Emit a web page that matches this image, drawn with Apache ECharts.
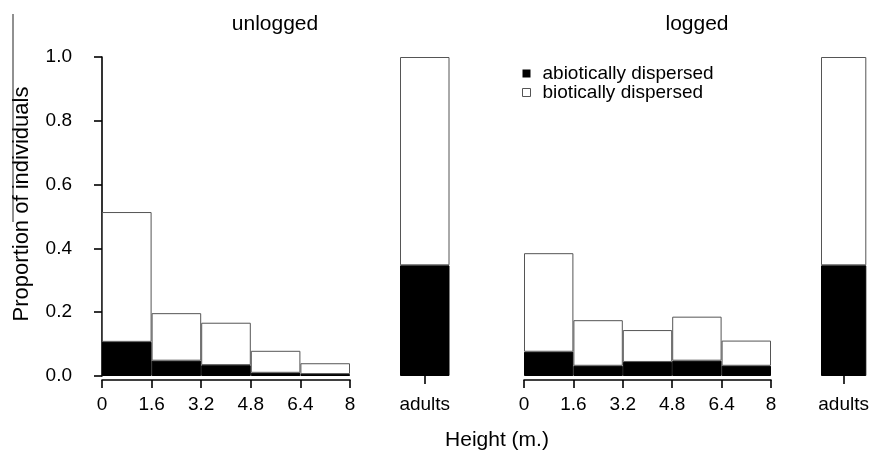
<!DOCTYPE html>
<html>
<head>
<meta charset="utf-8">
<script src="https://cdn.jsdelivr.net/npm/echarts@6/dist/echarts.min.js"></script>
<style>
html,body{margin:0;padding:0;background:#fff;}
#chart{width:872px;height:450px;}
</style>
</head>
<body>
<div id="chart"></div>
<script>
// ---- data ----
const panels = ['unlogged', 'logged'];
const binLabels = ['0-1.6', '1.6-3.2', '3.2-4.8', '4.8-6.4', '6.4-8'];
const adultsLabel = ['adults'];
const seriesNames = ['abiotically dispersed', 'biotically dispersed'];
const unloggedAbiotic = [0.107, 0.048, 0.034, 0.010, 0.006];
const unloggedBiotic  = [0.407, 0.149, 0.133, 0.069, 0.034];
const unloggedAdultsAbiotic = [0.347];
const unloggedAdultsBiotic  = [0.653];
const loggedAbiotic = [0.076, 0.032, 0.044, 0.048, 0.032];
const loggedBiotic  = [0.309, 0.143, 0.100, 0.138, 0.079];
const loggedAdultsAbiotic = [0.347];
const loggedAdultsBiotic  = [0.653];
const yAxisTitle = 'Proportion of individuals';
const xAxisTitle = 'Height (m.)';

// ---- styles ----
const FONT = 'Liberation Sans, Arial, Helvetica, sans-serif';
const axisLineStyle = {color: '#000', width: 1.6};
const blackStyle = {color: '#000', borderColor: '#000', borderWidth: 1};
const whiteStyle = {color: '#fff', borderColor: '#555', borderWidth: 1};

const chart = echarts.init(document.getElementById('chart'), null, {renderer: 'canvas'});

const gridTop = 57, gridH = 319;
const grids = [
  {left: 102, top: gridTop, width: 248, height: gridH},
  {left: 400, top: gridTop, width: 49.5, height: gridH},
  {left: 524, top: gridTop, width: 247, height: gridH},
  {left: 821, top: gridTop, width: 51.5, height: gridH}
];

function histValueAxis(gridIndex) {
  return {
    type: 'value', gridIndex: gridIndex, position: 'bottom', offset: 4,
    min: 0, max: 8, interval: 1.6,
    axisLine: {show: true, lineStyle: axisLineStyle},
    axisTick: {show: true, length: 8, lineStyle: axisLineStyle},
    axisLabel: {margin: 15, fontSize: 19, color: '#000', fontFamily: FONT,
      formatter: v => String(Math.round(v * 10) / 10)},
    splitLine: {show: false}
  };
}
function hiddenCat(gridIndex, data) {
  return {type: 'category', gridIndex: gridIndex, data: data, show: false};
}
function adultsAxis(gridIndex) {
  return {
    type: 'category', gridIndex: gridIndex, data: adultsLabel, position: 'bottom', offset: 4,
    axisLine: {show: false},
    axisTick: {show: true, alignWithLabel: true, length: 8, lineStyle: axisLineStyle},
    axisLabel: {margin: 15, fontSize: 19, color: '#000', fontFamily: FONT}
  };
}

const xAxes = [
  hiddenCat(0, binLabels),      // 0
  histValueAxis(0),             // 1
  adultsAxis(1),                // 2
  hiddenCat(2, binLabels),      // 3
  histValueAxis(2),             // 4
  adultsAxis(3)                 // 5
];

const yAxes = [0, 1, 2, 3].map(i => ({
  type: 'value', gridIndex: i, min: 0, max: 1, interval: 0.2,
  show: i === 0,
  position: 'left', offset: 13,
  axisLine: {show: true, lineStyle: axisLineStyle},
  axisTick: {show: true, length: 8, lineStyle: axisLineStyle},
  axisLabel: {margin: 17, fontSize: 19, color: '#000', fontFamily: FONT,
    formatter: v => v.toFixed(1)},
  splitLine: {show: false}
}));

function pair(xIdx, yIdx, stackKey, abiotic, biotic) {
  return [
    {type: 'bar', name: seriesNames[0], xAxisIndex: xIdx, yAxisIndex: yIdx, stack: stackKey,
     data: abiotic, barWidth: '100%', itemStyle: blackStyle, silent: true, animation: false},
    {type: 'bar', name: seriesNames[1], xAxisIndex: xIdx, yAxisIndex: yIdx, stack: stackKey,
     data: biotic, barWidth: '100%', itemStyle: whiteStyle, silent: true, animation: false}
  ];
}

const series = [].concat(
  pair(0, 0, 'u', unloggedAbiotic, unloggedBiotic),
  pair(2, 1, 'ua', unloggedAdultsAbiotic, unloggedAdultsBiotic),
  pair(3, 2, 'l', loggedAbiotic, loggedBiotic),
  pair(5, 3, 'la', loggedAdultsAbiotic, loggedAdultsBiotic)
);

const option = {
  backgroundColor: '#fff',
  animation: false,
  grid: grids,
  xAxis: xAxes,
  yAxis: yAxes,
  legend: {
    left: 522, top: 64, orient: 'vertical', padding: 0, itemGap: 0,
    itemWidth: 8, itemHeight: 8, icon: 'rect', selectedMode: false,
    textStyle: {fontSize: 19, lineHeight: 17, color: '#000', fontFamily: FONT, padding: [0, 0, 0, 7]},
    data: [
      {name: seriesNames[0], itemStyle: {color: '#000', borderColor: '#000', borderWidth: 0}},
      {name: seriesNames[1], itemStyle: {color: '#fff', borderColor: '#555', borderWidth: 1}}
    ]
  },
  graphic: [
    {type: 'text', x: 275, y: 24, style: {text: panels[0], font: '21px ' + FONT, fill: '#000', align: 'center', verticalAlign: 'middle'}},
    {type: 'text', x: 697, y: 24, style: {text: panels[1], font: '21px ' + FONT, fill: '#000', align: 'center', verticalAlign: 'middle'}},
    {type: 'text', x: 497, y: 440, style: {text: xAxisTitle, font: '21px ' + FONT, fill: '#000', align: 'center', verticalAlign: 'middle'}},
    {type: 'text', x: 22, y: 204, rotation: Math.PI / 2, style: {text: yAxisTitle, font: '22px ' + FONT, fill: '#000', align: 'center', verticalAlign: 'middle'}},
    {type: 'line', shape: {x1: 13, y1: 14, x2: 13, y2: 222}, style: {stroke: '#222', lineWidth: 1}}
  ],
  series: series
};
chart.setOption(option);
</script>
</body>
</html>
